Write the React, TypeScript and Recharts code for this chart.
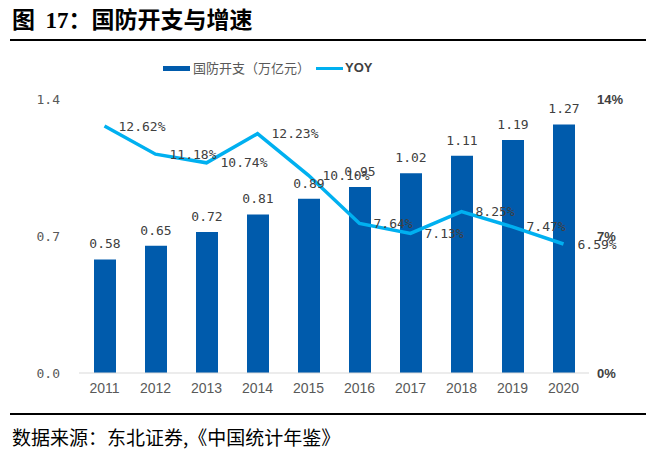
import { ComposedChart, Bar, Line, XAxis, YAxis, LabelList } from "recharts";

const years = ["2011", "2012", "2013", "2014", "2015", "2016", "2017", "2018", "2019", "2020"];
const spending = [0.58, 0.65, 0.72, 0.81, 0.89, 0.95, 1.02, 1.11, 1.19, 1.27];
const yoy = [12.62, 11.18, 10.74, 12.23, 10.1, 7.64, 7.13, 8.25, 7.47, 6.59];
const leftTicks = [0, 0.7, 1.4];
const rightTicks = [0, 7, 14];

const data = years.map((year, i) => ({ year, spending: spending[i], yoy: yoy[i] }));

const BAR = "#005BAC";
const LINE = "#00B0F0";
const MONO = "'DejaVu Sans Mono', 'Liberation Mono', monospace";
const NARROW = "'Liberation Sans Narrow', 'Liberation Sans', sans-serif";

export default function App() {
  return (
    <div
      style={{
        position: "fixed",
        left: 0,
        top: 0,
        width: 656,
        height: 454,
        background: "#fff",
        overflow: "hidden",
      }}
    >
      <div
        style={{
          position: "absolute",
          left: 12,
          top: 3,
          fontFamily: "'Noto Sans CJK SC', sans-serif",
          fontWeight: 700,
          fontSize: 23,
          lineHeight: "30px",
          color: "#000",
          whiteSpace: "pre",
        }}
      >
        图  <span style={{ fontFamily: "'Liberation Serif', serif" }}>17</span>：国防开支与增速
      </div>
      <div style={{ position: "absolute", left: 10, top: 39, width: 636, height: 2, background: "#000" }} />

      {/* legend */}
      <div style={{ position: "absolute", left: 163, top: 66, width: 27, height: 5, background: BAR }} />
      <div
        style={{
          position: "absolute",
          left: 193,
          top: 59,
          fontFamily: "'Noto Sans CJK SC', sans-serif",
          fontSize: 13,
          lineHeight: "18px",
          color: "#595959",
        }}
      >
        国防开支（万亿元）
      </div>
      <div style={{ position: "absolute", left: 316, top: 67, width: 27, height: 3, background: LINE }} />
      <div
        style={{
          position: "absolute",
          left: 345,
          top: 59,
          fontFamily: NARROW,
          fontWeight: 700,
          fontSize: 13,
          lineHeight: "18px",
          color: "#404040",
        }}
      >
        YOY
      </div>

      <div style={{ position: "absolute", left: 0, top: 0 }}>
        <ComposedChart
          width={656}
          height={454}
          data={data}
          margin={{ top: 99, right: 0, left: 0, bottom: 51 }}
        >
          <XAxis
            dataKey="year"
            axisLine={{ stroke: "#d9d9d9" }}
            tickLine={false}
            tickSize={0}
            tickMargin={10}
            height={30}
            tick={{ fill: "#595959", fontSize: 14, fontFamily: NARROW }}
          />
          <YAxis
            yAxisId="left"
            domain={[0, 1.4]}
            ticks={leftTicks}
            tickFormatter={(v: number) => v.toFixed(1)}
            axisLine={false}
            tickLine={false}
            tickSize={0}
            tickMargin={19}
            width={79}
            tick={{ fill: "#595959", fontSize: 13, fontFamily: MONO }}
          />
          <YAxis
            yAxisId="right"
            orientation="right"
            domain={[0, 14]}
            ticks={rightTicks}
            tickFormatter={(v: number) => `${v}%`}
            axisLine={false}
            tickLine={false}
            tickSize={0}
            tickMargin={8}
            width={67}
            tick={{ fill: "#404040", fontSize: 13, fontFamily: NARROW, fontWeight: 700 }}
          />
          <Bar yAxisId="left" dataKey="spending" fill={BAR} barSize={22} isAnimationActive={false}>
            <LabelList
              dataKey="spending"
              position="top"
              offset={11}
              formatter={(v: number) => v.toFixed(2)}
              style={{ fill: "#404040", fontSize: 13, fontFamily: MONO }}
            />
          </Bar>
          <Line
            yAxisId="right"
            dataKey="yoy"
            type="linear"
            stroke={LINE}
            strokeWidth={3.5}
            dot={false}
            isAnimationActive={false}
          >
            <LabelList
              dataKey="yoy"
              position="right"
              offset={14}
              formatter={(v: number) => `${v.toFixed(2)}%`}
              style={{ fill: "#404040", fontSize: 13, fontFamily: MONO }}
            />
          </Line>
        </ComposedChart>
      </div>

      <div style={{ position: "absolute", left: 10, top: 413, width: 636, height: 2, background: "#000" }} />
      <div
        style={{
          position: "absolute",
          left: 12,
          top: 423,
          fontFamily: "'Noto Sans CJK SC', sans-serif",
          fontSize: 19,
          lineHeight: "27px",
          color: "#000",
        }}
      >
        数据来源：东北证券,《中国统计年鉴》
      </div>
    </div>
  );
}
